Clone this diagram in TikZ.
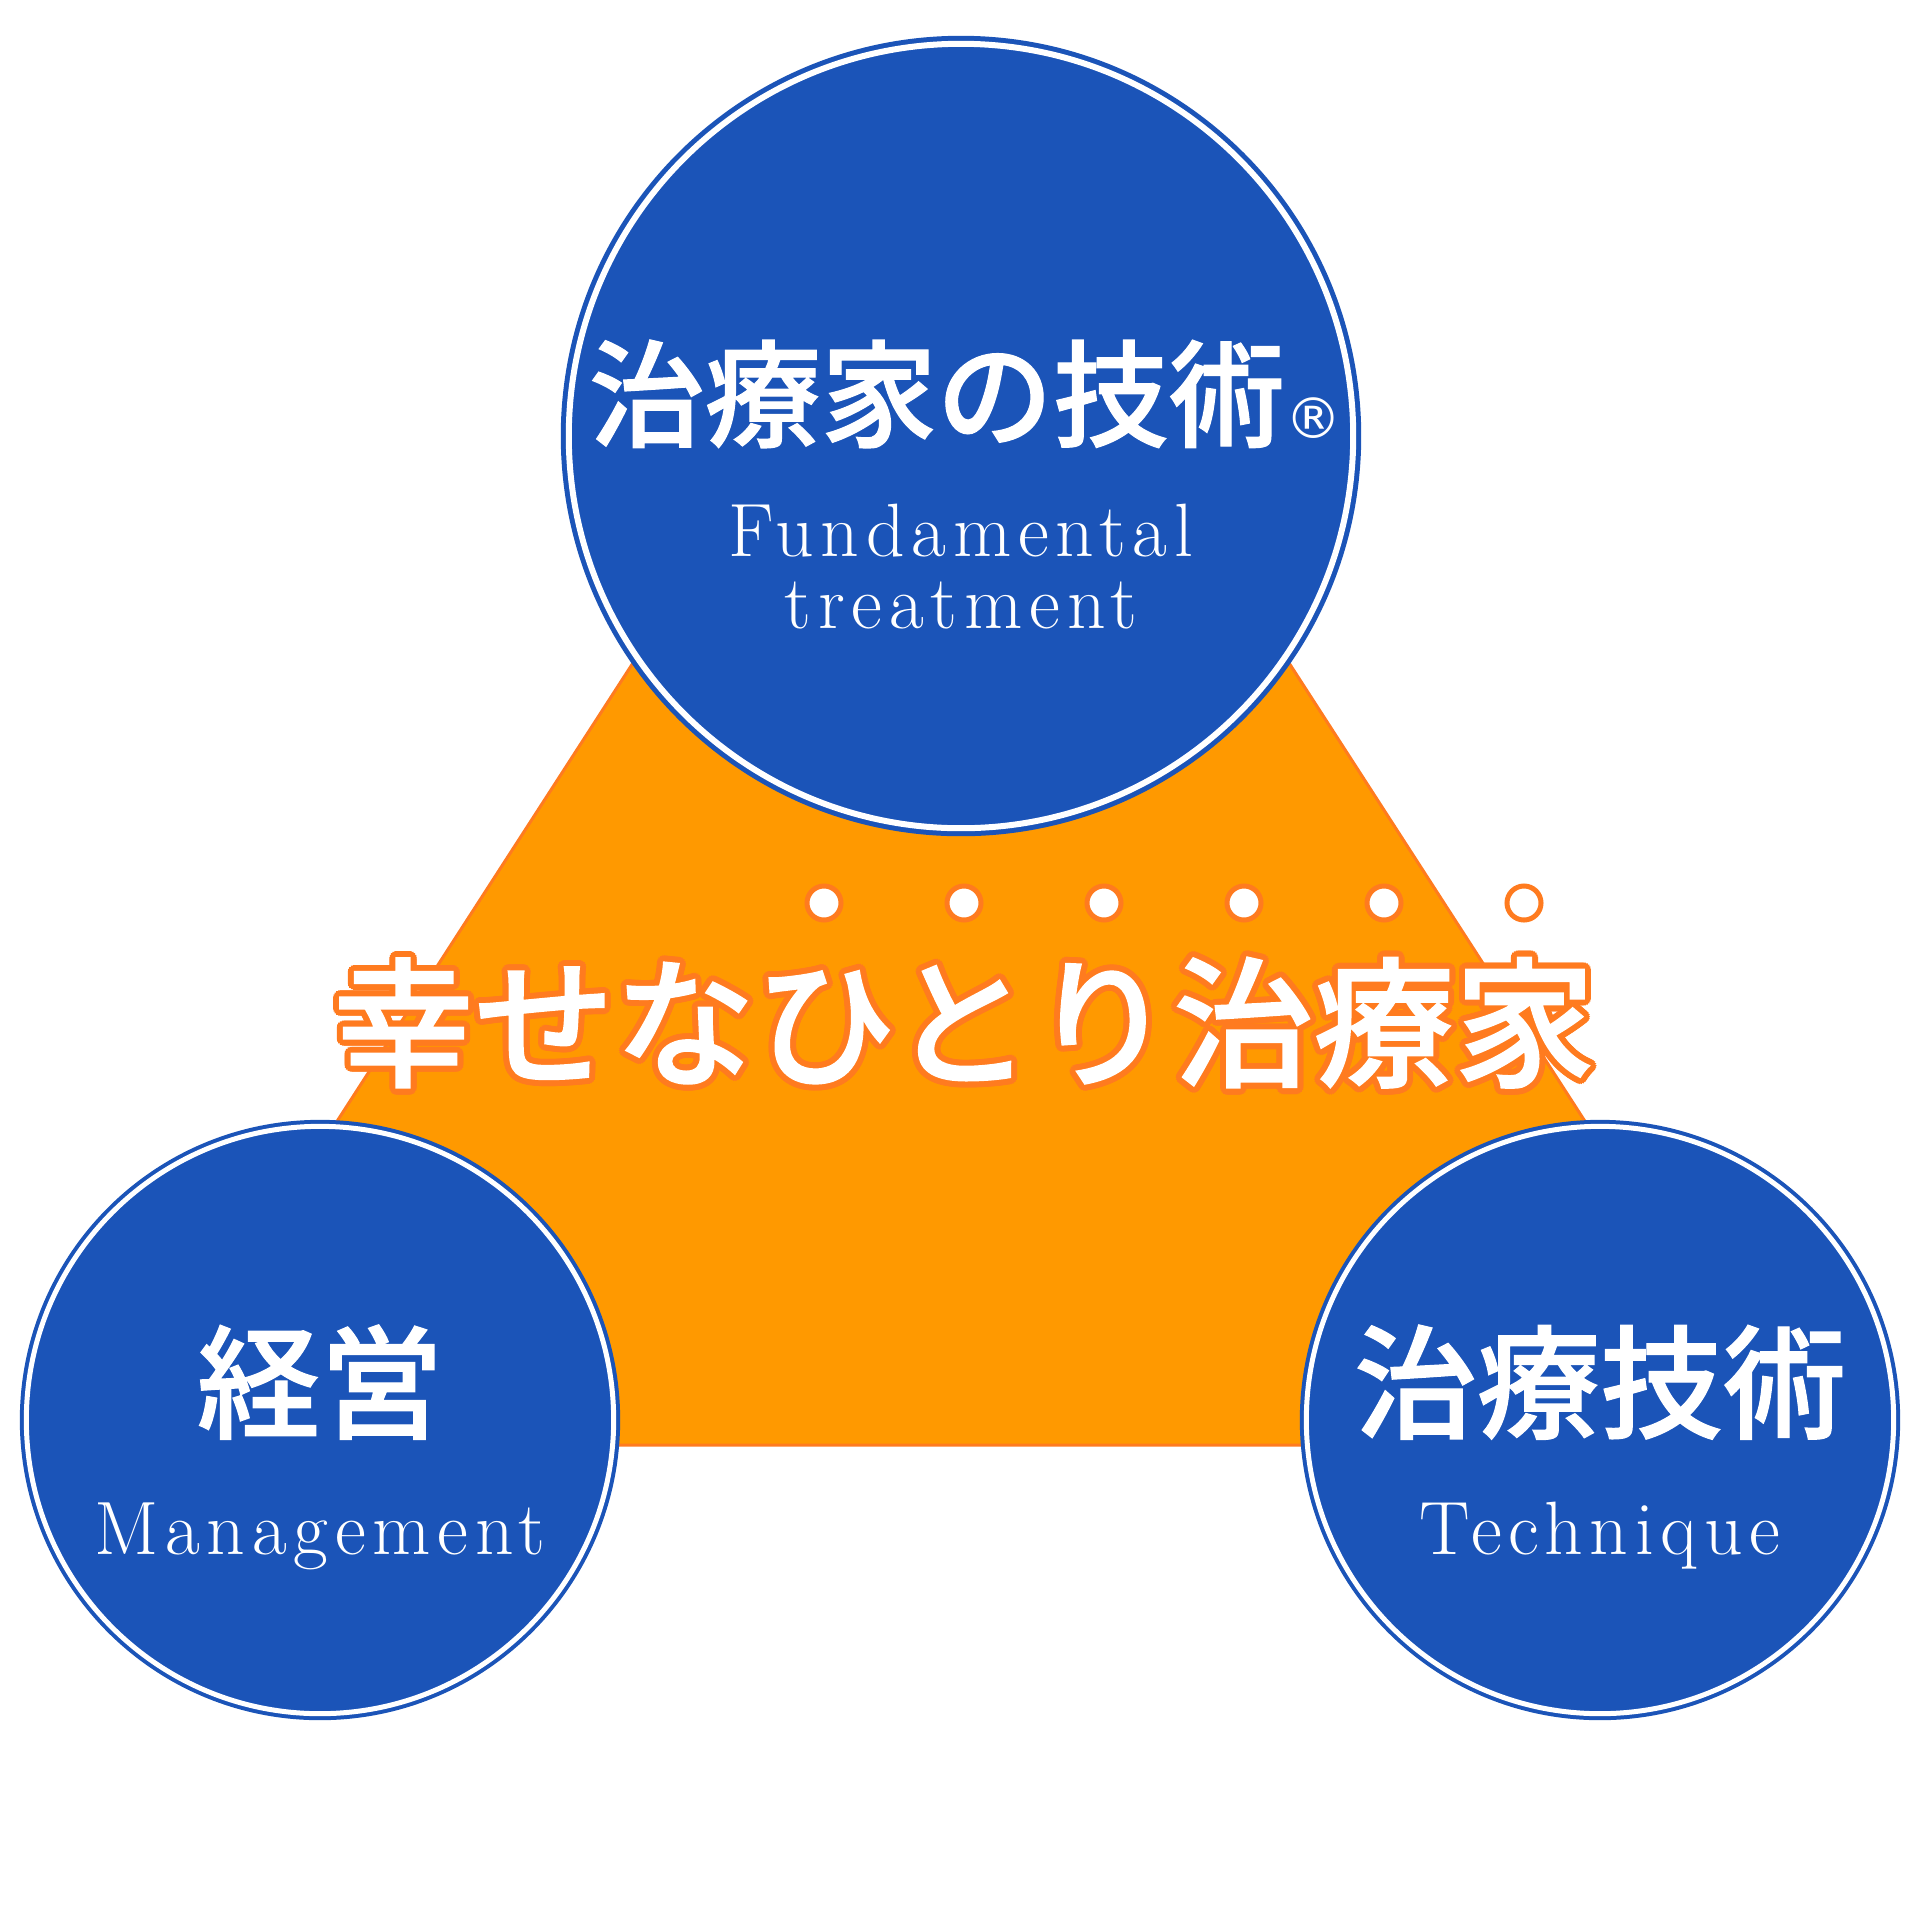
\documentclass[tikz,border=0pt]{standalone}
\usepackage{fontspec}
\usetikzlibrary{calc}
\newfontfamily\jpfont{Noto Sans CJK JP Medium}[FakeBold=1]
\newfontfamily\enfont{lmroman17-regular.otf}[LetterSpace=9]
\newfontfamily\symfont{DejaVu Sans}
\definecolor{kblue}{HTML}{1B54B8}
\definecolor{korange}{HTML}{FF9900}
\definecolor{kedge}{HTML}{FF7B1F}
\tikzset{
	bubble/.style={circle, fill=kblue, draw=kblue, double=white, inner sep=0pt},
	kanji/.style={white, anchor=base, inner sep=0pt, font=\jpfont\fontsize{35}{35}\selectfont},
	roman/.style={white, anchor=base, inner sep=0pt, font=\enfont\fontsize{21.5}{21.5}\selectfont},
	motto/.style={anchor=base, inner sep=0pt, font=\jpfont\fontsize{40}{40}\selectfont},
	emdot/.style={circle, fill=white, draw=kedge, line width=0.05cm, minimum size=0.34cm, inner sep=0pt},
}

\begin{document}
\begin{tikzpicture}[x=0.01cm, y=-0.01cm]
	\useasboundingbox (0,0) rectangle (1920,1920);
	% triangle behind the three circles
	\coordinate (apex) at (961,155);
	\coordinate (bl) at (128,1445);
	\coordinate (br) at (1794,1445);
	\draw[fill=korange, draw=kedge, line width=0.03cm] (apex) -- (br) -- (bl) -- cycle;
	% circles
	\node[bubble, line width=0.05cm, double distance=0.06cm, minimum size=7.84cm] (treat) at (961,436) {};
	\node[bubble, line width=0.04cm, double distance=0.05cm, minimum size=5.87cm] (manage) at (320,1420) {};
	\node[bubble, line width=0.04cm, double distance=0.05cm, minimum size=5.87cm] (tech) at (1600,1420) {};
	% texts in the circles
	\node[kanji, font=\jpfont\fontsize{33}{33}\selectfont] (treatjp) at ($(treat)+(4,2)$) {治療家の技術{\symfont\fontsize{16}{16}\selectfont ®}};
	\node[roman] (treaten) at ($(treat)+(0,120)$) {Fundamental};
	\node[roman] (treaten2) at ($(treat)+(0,192)$) {treatment};
	\node[kanji] (managejp) at ($(manage)+(0,9)$) {経営};
	\node[roman] (manageen) at ($(manage)+(0,134)$) {Management};
	\node[kanji] (techjp) at ($(tech)+(0,9)$) {治療技術};
	\node[roman] (techen) at ($(tech)+(0,134)$) {Technique};
	% motto with outline and emphasis dots
	\coordinate (mottopos) at (964,1076);
	\foreach \a in {0,20,...,340}
		\node[motto, kedge] at ($(mottopos)+(\a:6)$) {幸せなひとり治療家};
	\node[motto, white] (mottotext) at (mottopos) {幸せなひとり治療家};
	\foreach \i in {3,...,8}
		\node[emdot] (dot\i) at ($(mottopos)+({140*\i-560},-173)$) {};
\end{tikzpicture}
\end{document}
